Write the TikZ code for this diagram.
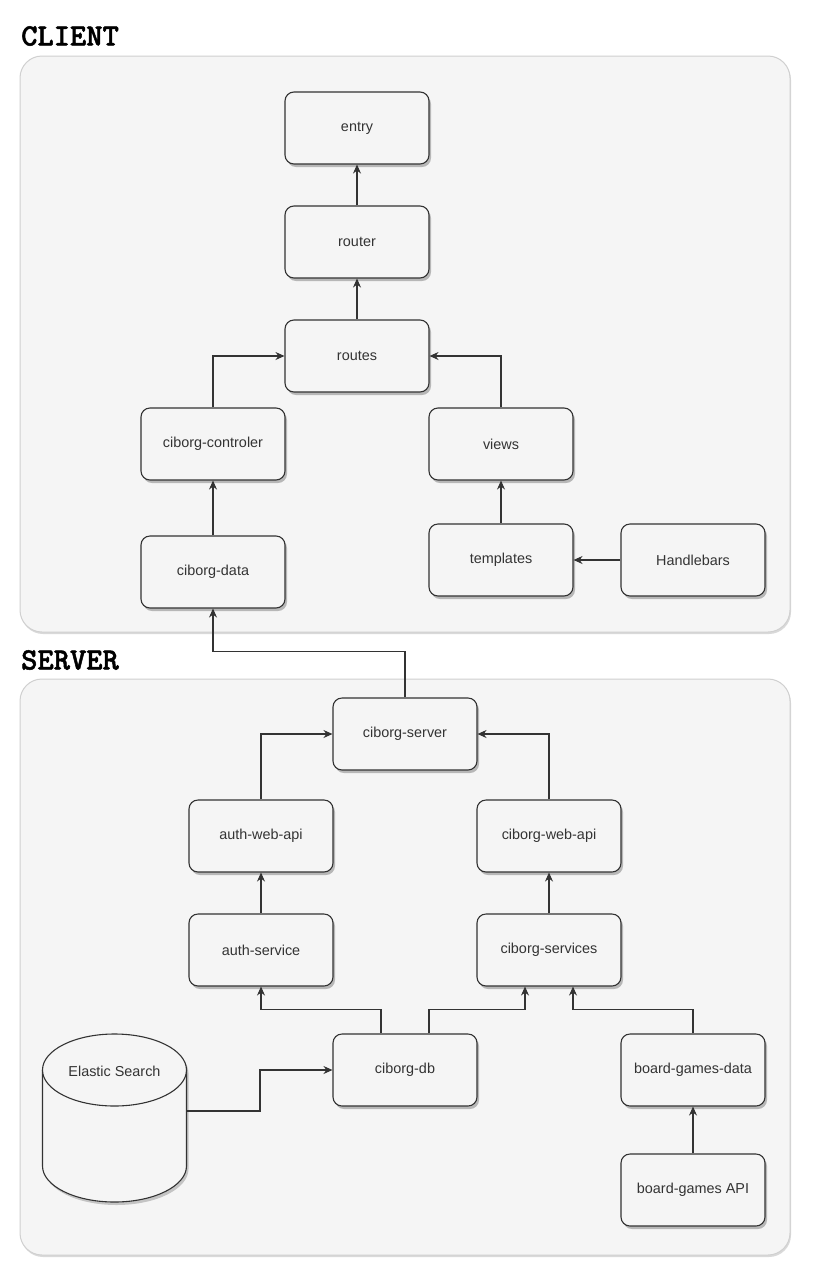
\documentclass[tikz,border=0pt]{standalone}
\usepackage{fontspec}
\setmainfont{Liberation Sans}
\newfontfamily\titlefont{lmmonolt10-bold.otf}[BoldFont={lmmonolt10-bold.otf}, BoldFeatures={FakeBold=1.6}]
\usetikzlibrary{arrows.meta,shadows}
\definecolor{ink}{HTML}{333333}
\definecolor{panel}{HTML}{F5F5F5}
\definecolor{panelline}{HTML}{D0D0D0}
\tikzset{
  pane/.style={draw=panelline, fill=panel, rounded corners=22pt, line width=1pt,
    drop shadow={shadow xshift=1pt, shadow yshift=-2pt, opacity=0.15, fill=black}},
  title/.style={anchor=west, inner sep=0pt, font=\fontsize{31}{33}\selectfont\titlefont\bfseries, text=black},
  box/.style={draw=ink, fill=panel, rounded corners=9pt, line width=1.1pt,
    minimum width=144pt, minimum height=72pt, inner sep=0pt,
    font=\fontsize{14.4}{16}\selectfont, text=ink,
    drop shadow={shadow xshift=2pt, shadow yshift=-3pt, opacity=0.25, fill=black}},
  link/.style={draw=ink, line width=1.1pt, -{Stealth[length=9pt,width=8pt]}},
}
\begin{document}
\begin{tikzpicture}[x=1pt,y=-1pt]
\useasboundingbox (0,0) rectangle (812,1280);

% containers
\draw[pane] (20,56) rectangle (790,632);
\draw[pane] (20,679) rectangle (790,1255);
\node[title] (tclient) at (21,36) {CLIENT};
\node[title] (tserver) at (21,660) {SERVER};

% client modules
\node[box] (entry)  at (357,128) {entry};
\node[box] (router) at (357,242) {router};
\node[box] (routes) at (357,356) {routes};
\node[box] (ctrl)   at (213,444) {ciborg-controler};
\node[box] (views)  at (501,444) {views};
\node[box] (cdata)  at (213,572) {ciborg-data};
\node[box] (tmpl)   at (501,560) {templates};
\node[box] (hbs)    at (693,560) {Handlebars};

% server modules
\node[box] (srv)   at (405,734)  {ciborg-server};
\node[box] (awapi) at (261,836)  {auth-web-api};
\node[box] (cwapi) at (549,836)  {ciborg-web-api};
\node[box] (asvc)  at (261,950)  {auth-service};
\node[box] (csvc)  at (549,950)  {ciborg-services};
\node[box] (db)    at (405,1070) {ciborg-db};
\node[box] (bgd)   at (693,1070) {board-games-data};
\node[box] (bgapi) at (693,1190) {board-games API};

% Elastic Search database cylinder
\begin{scope}[draw=ink, line width=1.1pt]
  \fill[black, opacity=0.2, xshift=2pt, yshift=-3pt]
    (42.5,1070) -- (42.5,1166) arc[start angle=180, end angle=360, x radius=72, y radius=-36]
    -- (186.5,1070) arc[start angle=0, end angle=180, x radius=72, y radius=-36] -- cycle;
  \filldraw[fill=panel]
    (42.5,1070) -- (42.5,1166) arc[start angle=180, end angle=360, x radius=72, y radius=-36]
    -- (186.5,1070);
  \filldraw[fill=panel] (114.5,1070) ellipse[x radius=72, y radius=36];
\end{scope}
\node[font=\fontsize{14.4}{16}\selectfont, text=ink, inner sep=0pt] (es) at (114.5,1071) {Elastic Search};
\coordinate (esout) at (186.5,1111);

% client dependencies
\draw[link] (router) -- (entry);
\draw[link] (routes) -- (router);
\draw[link] (ctrl.north) |- (routes.west);
\draw[link] (views.north) |- (routes.east);
\draw[link] (cdata) -- (ctrl);
\draw[link] (tmpl) -- (views);
\draw[link] (hbs) -- (tmpl);

% server to client
\draw[link] (srv.north) -- ++(0,-46) -| (cdata.south);

% server dependencies
\draw[link] (awapi.north) |- (srv.west);
\draw[link] (cwapi.north) |- (srv.east);
\draw[link] (asvc) -- (awapi);
\draw[link] (csvc) -- (cwapi);
\draw[link] ([xshift=-24pt]db.north) -- ++(0,-24) -| (asvc.south);
\draw[link] ([xshift=24pt]db.north) -- ++(0,-24) -| ([xshift=-24pt]csvc.south);
\draw[link] (bgd.north) -- ++(0,-24) -| ([xshift=24pt]csvc.south);
\draw[link] (esout) -- ++(73.5,0) |- (db.west);
\draw[link] (bgapi) -- (bgd);
\end{tikzpicture}
\end{document}
